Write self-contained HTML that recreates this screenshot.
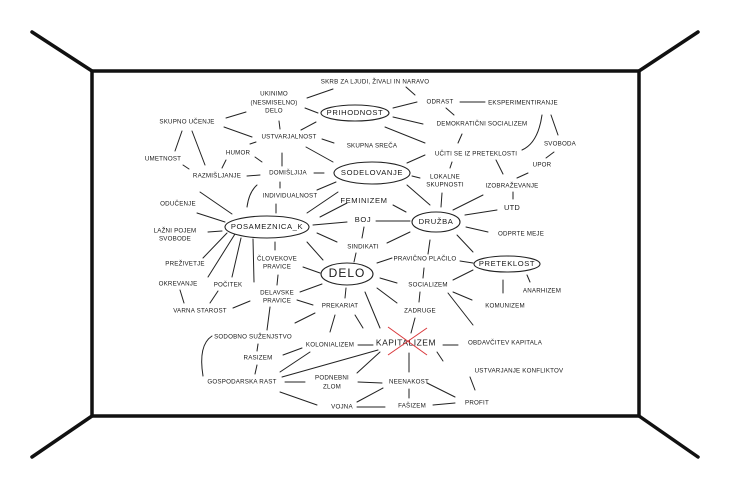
<!DOCTYPE html>
<html><head><meta charset="utf-8"><style>
html,body{margin:0;padding:0;background:#fff;}
svg{display:block;}
text{font-family:"Liberation Sans",sans-serif;font-size:6.2px;fill:#1a1a1a;text-anchor:middle;dominant-baseline:middle;letter-spacing:0.2px;}
.b{font-size:7.6px;letter-spacing:0.6px;}
.l line,.l path{stroke:#222;stroke-width:1;fill:none;stroke-linecap:round;}
</style></head><body>
<svg width="730" height="487" viewBox="0 0 730 487">
<g stroke="#111" stroke-width="3.5" fill="none" stroke-linecap="round">
<rect x="92" y="71" width="547" height="345"/>
<line x1="92" y1="71" x2="32" y2="32"/>
<line x1="639" y1="71" x2="698" y2="32"/>
<line x1="92" y1="416" x2="32" y2="457"/>
<line x1="639" y1="416" x2="698" y2="457"/>
</g>
<g class="l">
<line x1="307" y1="98" x2="333" y2="89"/><line x1="305" y1="108" x2="318" y2="113"/>
<line x1="226" y1="118" x2="246" y2="112"/><line x1="224" y1="127" x2="252" y2="137"/>
<line x1="279" y1="121" x2="280" y2="129"/><line x1="301" y1="130" x2="316" y2="122"/>
<line x1="322" y1="139" x2="334" y2="143"/><line x1="306" y1="147" x2="333" y2="162"/>
<line x1="182" y1="131" x2="175" y2="151"/><line x1="192" y1="131" x2="205" y2="165"/>
<line x1="250" y1="144" x2="256" y2="142"/><line x1="255" y1="157" x2="262" y2="162"/>
<line x1="222" y1="168" x2="226" y2="160"/><line x1="183" y1="165" x2="189" y2="169"/>
<line x1="247" y1="176" x2="260" y2="175"/><line x1="282" y1="153" x2="282" y2="166"/>
<line x1="314" y1="173" x2="324" y2="173"/><line x1="280" y1="182" x2="280" y2="188"/>
<path d="M257 185 Q249 192 247 207"/><line x1="200" y1="192" x2="232" y2="214"/>
<line x1="317" y1="190" x2="336" y2="182"/><line x1="276" y1="204" x2="276" y2="213"/>
<line x1="307" y1="213" x2="338" y2="192"/><line x1="320" y1="217" x2="347" y2="203"/>
<line x1="313" y1="225" x2="347" y2="222"/><line x1="197" y1="213" x2="225" y2="222"/>
<line x1="208" y1="232" x2="222" y2="231"/>
<line x1="406" y1="87" x2="415" y2="95"/><line x1="393" y1="108" x2="417" y2="102"/>
<line x1="393" y1="117" x2="423" y2="124"/><line x1="385" y1="127" x2="425" y2="143"/>
<line x1="460" y1="102" x2="485" y2="102"/><line x1="446" y1="108" x2="454" y2="115"/>
<line x1="462" y1="134" x2="458" y2="143"/><path d="M542 115 Q538 143 522 150"/>
<line x1="551" y1="115" x2="558" y2="135"/><line x1="554" y1="152" x2="546" y2="158"/>
<line x1="517" y1="178" x2="528" y2="173"/><line x1="496" y1="160" x2="503" y2="174"/>
<line x1="452" y1="162" x2="450" y2="168"/><line x1="407" y1="163" x2="425" y2="155"/>
<line x1="412" y1="176" x2="420" y2="178"/><line x1="407" y1="185" x2="430" y2="205"/>
<line x1="442" y1="193" x2="441" y2="207"/><line x1="393" y1="205" x2="406" y2="212"/>
<line x1="453" y1="210" x2="483" y2="195"/><line x1="513" y1="192" x2="513" y2="199"/>
<line x1="465" y1="215" x2="497" y2="210"/><line x1="466" y1="227" x2="488" y2="232"/>
<line x1="376" y1="221" x2="410" y2="221"/><line x1="364" y1="227" x2="362" y2="238"/>
<line x1="317" y1="233" x2="337" y2="242"/><line x1="387" y1="243" x2="410" y2="232"/>
<line x1="356" y1="253" x2="354" y2="262"/><line x1="430" y1="240" x2="428" y2="254"/>
<line x1="457" y1="235" x2="473" y2="252"/><line x1="377" y1="263" x2="392" y2="258"/>
<line x1="460" y1="261" x2="473" y2="263"/><line x1="424" y1="268" x2="423" y2="278"/>
<line x1="380" y1="278" x2="397" y2="283"/><line x1="453" y1="280" x2="473" y2="270"/>
<line x1="503" y1="280" x2="503" y2="293"/><line x1="527" y1="275" x2="530" y2="282"/>
<line x1="453" y1="292" x2="472" y2="300"/><line x1="420" y1="292" x2="419" y2="302"/>
<line x1="448" y1="293" x2="473" y2="325"/><line x1="415" y1="318" x2="411" y2="333"/>
<line x1="377" y1="288" x2="397" y2="303"/><line x1="365" y1="292" x2="380" y2="328"/>
<line x1="346" y1="288" x2="345" y2="298"/><line x1="303" y1="267" x2="320" y2="273"/>
<line x1="278" y1="275" x2="277" y2="285"/><line x1="300" y1="292" x2="322" y2="284"/>
<line x1="297" y1="300" x2="313" y2="305"/><line x1="233" y1="308" x2="250" y2="301"/>
<line x1="270" y1="307" x2="267" y2="330"/><line x1="315" y1="313" x2="295" y2="323"/>
<line x1="335" y1="315" x2="330" y2="332"/><line x1="355" y1="315" x2="363" y2="328"/>
<line x1="358" y1="345" x2="373" y2="345"/><line x1="302" y1="348" x2="283" y2="355"/>
<line x1="258" y1="344" x2="257" y2="351"/><line x1="257" y1="365" x2="255" y2="374"/>
<line x1="310" y1="352" x2="280" y2="372"/><line x1="378" y1="350" x2="282" y2="377"/>
<line x1="380" y1="352" x2="357" y2="373"/><line x1="409" y1="353" x2="409" y2="372"/>
<line x1="437" y1="352" x2="443" y2="361"/><line x1="443" y1="345" x2="458" y2="345"/>
<line x1="470" y1="377" x2="475" y2="390"/><line x1="427" y1="383" x2="455" y2="397"/>
<line x1="285" y1="382" x2="305" y2="382"/><line x1="358" y1="382" x2="382" y2="383"/>
<line x1="409" y1="389" x2="409" y2="398"/><line x1="383" y1="388" x2="357" y2="402"/>
<line x1="357" y1="407" x2="385" y2="407"/><line x1="433" y1="405" x2="455" y2="403"/>
<line x1="280" y1="392" x2="317" y2="405"/><path d="M212 336 Q198 345 203 376"/>
<line x1="227" y1="233" x2="203" y2="258"/><line x1="235" y1="234" x2="208" y2="277"/>
<line x1="241" y1="238" x2="232" y2="277"/><line x1="253" y1="239" x2="254" y2="282"/>
<line x1="275" y1="242" x2="275" y2="250"/><line x1="307" y1="242" x2="323" y2="260"/>
<line x1="180" y1="290" x2="184" y2="303"/><line x1="218" y1="291" x2="210" y2="303"/>
</g>
<g fill="#fff" stroke="#222" stroke-width="1.1">
<ellipse cx="355" cy="113" rx="34" ry="8"/>
<ellipse cx="372" cy="173" rx="38" ry="11"/>
<ellipse cx="267" cy="227" rx="42" ry="11"/>
<ellipse cx="436" cy="222" rx="24" ry="10"/>
<ellipse cx="347" cy="274" rx="26" ry="11"/>
<ellipse cx="507" cy="264" rx="33" ry="8"/>
</g>
<g>
<text x="375" y="82">SKRB ZA LJUDI, ŽIVALI IN NARAVO</text>
<text x="274" y="94">UKINIMO</text><text x="274" y="103">(NESMISELNO)</text><text x="274" y="111">DELO</text>
<text class="b" x="355" y="113">PRIHODNOST</text>
<text x="440" y="102">ODRAST</text><text x="523" y="103">EKSPERIMENTIRANJE</text>
<text x="482" y="124">DEMOKRATIČNI SOCIALIZEM</text>
<text x="187" y="122">SKUPNO UČENJE</text><text x="289" y="137">USTVARJALNOST</text>
<text x="372" y="146">SKUPNA SREČA</text><text x="476" y="154">UČITI SE IZ PRETEKLOSTI</text>
<text x="560" y="144">SVOBODA</text><text x="542" y="165">UPOR</text>
<text x="238" y="153">HUMOR</text><text x="163" y="159">UMETNOST</text>
<text x="217" y="176">RAZMIŠLJANJE</text><text x="288" y="173">DOMIŠLJIJA</text>
<text class="b" x="372" y="173">SODELOVANJE</text>
<text x="445" y="177">LOKALNE</text><text x="445" y="185">SKUPNOSTI</text>
<text x="512" y="186">IZOBRAŽEVANJE</text>
<text x="290" y="196">INDIVIDUALNOST</text>
<text class="b" x="364" y="201">FEMINIZEM</text>
<text x="512" y="208" style="font-size:7.5px">UTD</text>
<text x="178" y="204">ODUČENJE</text>
<text class="b" x="363" y="220">BOJ</text>
<text class="b" x="267" y="227">POSAMEZNICA_K</text>
<text class="b" x="436" y="222">DRUŽBA</text>
<text x="175" y="231">LAŽNI POJEM</text><text x="175" y="239">SVOBODE</text>
<text x="521" y="234">ODPRTE MEJE</text>
<text x="363" y="247">SINDIKATI</text>
<text x="277" y="259">ČLOVEKOVE</text><text x="277" y="267">PRAVICE</text>
<text x="347" y="274" style="font-size:12px;letter-spacing:1px">DELO</text>
<text x="425" y="259">PRAVIČNO PLAČILO</text>
<text class="b" x="507" y="264">PRETEKLOST</text>
<text x="185" y="264">PREŽIVETJE</text><text x="178" y="284">OKREVANJE</text>
<text x="228" y="285">POČITEK</text><text x="428" y="285">SOCIALIZEM</text>
<text x="277" y="293">DELAVSKE</text><text x="277" y="301">PRAVICE</text>
<text x="542" y="291">ANARHIZEM</text><text x="200" y="311">VARNA STAROST</text>
<text x="340" y="306">PREKARIAT</text><text x="420" y="311">ZADRUGE</text>
<text x="505" y="306">KOMUNIZEM</text>
<text x="253" y="337">SODOBNO SUŽENJSTVO</text>
<text x="330" y="345">KOLONIALIZEM</text>
<text x="406" y="343" style="font-size:8.5px;letter-spacing:0.5px">KAPITALIZEM</text>
<text x="505" y="343">OBDAVČITEV KAPITALA</text>
<text x="258" y="358">RASIZEM</text>
<text x="519" y="371">USTVARJANJE KONFLIKTOV</text>
<text x="242" y="382">GOSPODARSKA RAST</text>
<text x="332" y="378">PODNEBNI</text><text x="332" y="387">ZLOM</text>
<text x="409" y="382">NEENAKOST</text>
<text x="477" y="403">PROFIT</text><text x="342" y="407">VOJNA</text><text x="412" y="406">FAŠIZEM</text>
</g>
<g stroke="#d9373b" stroke-width="1">
<line x1="388" y1="327" x2="427" y2="355"/><line x1="388" y1="355" x2="427" y2="328"/>
</g>
</svg>
</body></html>
